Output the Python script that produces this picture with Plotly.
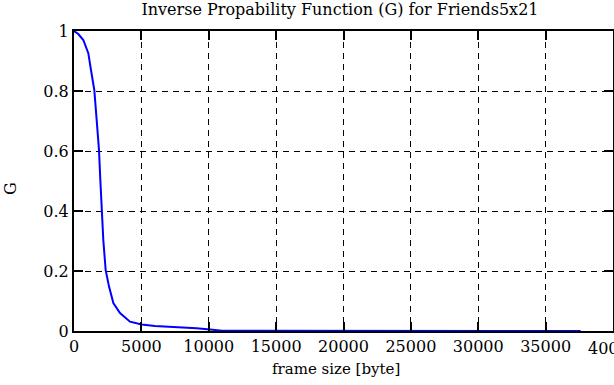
import plotly.graph_objects as go

frame_size = [0, 320, 690, 890, 1061, 1260, 1508, 1683, 1855, 1955, 2053, 2175, 2350, 2600, 2920, 3414, 4156, 5024, 6000, 7100, 8000, 9100, 10100, 11000, 37600]
G = [1.0, 0.99, 0.97, 0.948, 0.926, 0.87, 0.803, 0.703, 0.603, 0.503, 0.403, 0.303, 0.203, 0.148, 0.093, 0.06, 0.031, 0.022, 0.017, 0.015, 0.011, 0.009, 0.005, 0.001, 0.0]

x_ticks = [0, 5000, 10000, 15000, 20000, 25000, 30000, 35000, 40000]
x_labels = ["0", "5000", "10000", "15000", "20000", "25000", "30000", "35000", "40000"]
y_ticks = [0, 0.2, 0.4, 0.6, 0.8, 1]
y_labels = ["0", "0.2", "0.4", "0.6", "0.8", "1"]

font = dict(family="DejaVu Serif, Liberation Serif, serif", size=16, color="black")
font_small = dict(font, size=15)

fig = go.Figure()
fig.add_trace(go.Scatter(x=frame_size, y=G, mode="lines",
                         line=dict(color="#0000ff", width=2), showlegend=False))

axis_common = dict(showgrid=True, gridcolor="black", griddash="6px,5px", gridwidth=1,
                   showline=True, linecolor="black", linewidth=2, mirror="ticks",
                   ticks="inside", ticklen=9, tickcolor="black", tickwidth=2,
                   zeroline=False, tickfont=font, automargin=False)

# last x label is drawn as an annotation so it is clipped at the page edge like the reference
fig.update_xaxes(range=[0, 40000], tickvals=x_ticks,
                 ticktext=x_labels[:-1] + [""], **axis_common)
fig.update_yaxes(range=[0, 1], tickvals=y_ticks, ticktext=y_labels, **axis_common)

fig.add_annotation(text=x_labels[-1], xref="x", yref="paper", x=x_ticks[-1], y=-0.057,
                   xanchor="center", yanchor="middle", showarrow=False, font=font)
fig.add_annotation(text="frame size [byte]", xref="paper", yref="paper",
                   x=0.487, y=-0.127, xanchor="center", yanchor="middle",
                   showarrow=False, font=font_small)
fig.add_annotation(text="G", xref="paper", yref="paper", x=-0.1187, y=0.473,
                   xanchor="center", yanchor="middle", textangle=-90,
                   showarrow=False, font=font)

fig.update_layout(
    width=614, height=385,
    margin=dict(l=74, r=1, t=31, b=54),
    paper_bgcolor="white", plot_bgcolor="white",
    title=dict(text="Inverse Propability Function (G) for Friends5x21", font=font,
               xref="container", x=0.5537, xanchor="center",
               yref="container", y=0.975, yanchor="middle"),
)

fig.write_html("out.html", config={"displayModeBar": False},
               post_script="document.body.style.margin='0';")
